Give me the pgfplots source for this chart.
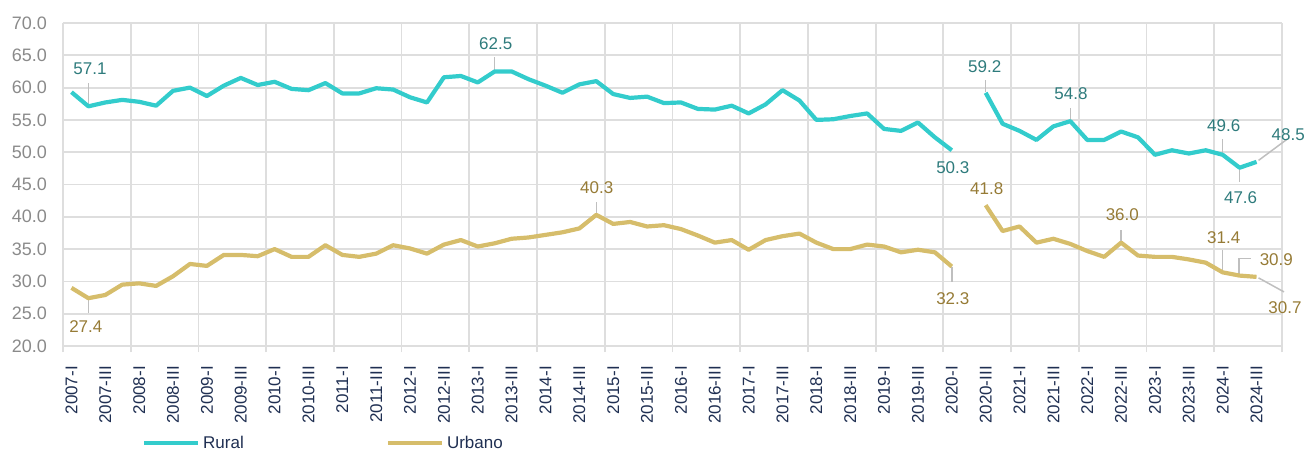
\documentclass[border=0pt]{standalone}
\usepackage{fontspec}
\setmainfont{Liberation Sans}
\usepackage{pgfplots}
\pgfplotsset{compat=1.18}
\usepackage{pgfplotstable}
\definecolor{rurc}{HTML}{33CCCC}
\definecolor{urbc}{HTML}{D6BD6B}
\definecolor{rurt}{HTML}{2E7B7C}
\definecolor{urbt}{HTML}{967B36}
\definecolor{gridc}{HTML}{DEDEDE}
\definecolor{leadc}{HTML}{BFBFBF}
\definecolor{navy}{HTML}{1F2F52}
\definecolor{ytc}{HTML}{8A8A8A}
\newcommand\lbl{\fontsize{17}{20}\selectfont}
\newcommand\ylbl{\fontsize{18}{21}\selectfont}
\tikzset{
  ld/.style={draw=leadc, line width=1.5pt},
  rl/.style={text=rurt, font=\lbl, inner sep=0pt},
  ul/.style={text=urbt, font=\lbl, inner sep=0pt},
}

\pgfplotstableread{
i r u
0 59.3 29.0
1 57.1 27.4
2 57.7 27.9
3 58.1 29.5
4 57.8 29.7
5 57.2 29.3
6 59.5 30.8
7 60.0 32.7
8 58.7 32.4
9 60.3 34.1
10 61.5 34.1
11 60.4 33.9
12 60.9 35.0
13 59.8 33.8
14 59.6 33.8
15 60.7 35.6
16 59.1 34.1
17 59.1 33.8
18 59.9 34.3
19 59.7 35.6
20 58.5 35.1
21 57.7 34.3
22 61.6 35.7
23 61.8 36.4
24 60.8 35.4
25 62.5 35.9
26 62.5 36.6
27 61.3 36.8
28 60.3 37.2
29 59.2 37.6
30 60.5 38.2
31 61.0 40.3
32 59.0 38.9
33 58.4 39.2
34 58.6 38.5
35 57.6 38.7
36 57.7 38.1
37 56.7 37.1
38 56.6 36.0
39 57.2 36.4
40 56.0 34.9
41 57.4 36.4
42 59.6 37.0
43 58.0 37.4
44 55.0 36.0
45 55.1 35.0
46 55.6 35.0
47 56.0 35.7
48 53.6 35.4
49 53.3 34.5
50 54.6 34.9
51 52.3 34.5
52 50.3 32.3
53 nan nan
54 59.2 41.8
55 54.4 37.8
56 53.3 38.5
57 51.9 36.0
58 54.0 36.6
59 54.8 35.8
60 51.9 34.7
61 51.9 33.8
62 53.2 36.0
63 52.3 34.0
64 49.6 33.8
65 50.3 33.8
66 49.8 33.4
67 50.3 32.9
68 49.6 31.4
69 47.6 30.9
70 48.5 30.7
}\data

\begin{document}
\begin{tikzpicture}
\useasboundingbox (-63pt,-104pt) rectangle (1245pt,346pt);
\begin{axis}[
  at={(0pt,0pt)}, anchor=south west,
  width=1219pt, height=323pt, scale only axis,
  clip=false,
  xmin=-0.5, xmax=71.5, ymin=20, ymax=70,
  ytick={20,25,...,70},
  xtick={0,2,...,70},
  xticklabels={2007-I,2007-III,2008-I,2008-III,2009-I,2009-III,2010-I,2010-III,2011-I,2011-III,2012-I,2012-III,2013-I,2013-III,2014-I,2014-III,2015-I,2015-III,2016-I,2016-III,2017-I,2017-III,2018-I,2018-III,2019-I,2019-III,2020-I,2020-III,2021-I,2021-III,2022-I,2022-III,2023-I,2023-III,2024-I,2024-III},
  minor xtick={-0.5,3.5,...,71.5},
  xminorgrids=true, xmajorgrids=false, ymajorgrids=true,
  grid style={draw=gridc, line width=1.8pt},
  minor grid style={draw=gridc, line width=1.8pt},
  axis line style={draw=none},
  major tick length=0pt, minor tick length=6pt, tick align=outside,
  xtick pos=left, ytick pos=left,
  minor tick style={draw=gridc, line width=1.8pt},
  unbounded coords=jump,
  /pgf/number format/assume math mode=true,
  xticklabel style={font=\lbl},
  yticklabel style={font=\ylbl, text=ytc, inner sep=0pt, xshift=-16pt,
    /pgf/number format/fixed, /pgf/number format/fixed zerofill, /pgf/number format/precision=1},
  xticklabel style={text=navy, rotate=90, anchor=east, inner sep=0pt},
  xticklabel shift=20pt,
  legend columns=2,
  legend style={at={(axis description cs:0.0648,-0.2993)}, anchor=west, draw=none, fill=none,
    inner sep=0pt, outer sep=0pt, nodes={inner sep=3pt, text=navy, font=\lbl},
    /tikz/every even column/.append style={column sep=139pt}},
  legend image code/.code={\draw[#1, line cap=round] (2.1pt,0pt) -- (50.9pt,0pt); \path (0pt,0pt) -- (54pt,0pt);},
]
% leaders
\draw[ld] ([yshift=2pt]axis cs:1,57.1) -- ([yshift=23pt]axis cs:1,57.1);
\draw[ld] ([yshift=1pt]axis cs:25,62.5) -- ([yshift=14pt]axis cs:25,62.5);
\draw[ld] ([yshift=1pt]axis cs:54,59.2) -- ([yshift=13pt]axis cs:54,59.2);
\draw[ld] ([yshift=0pt]axis cs:59,54.8) -- ([yshift=13.5pt]axis cs:59,54.8);
\draw[ld] ([yshift=1.5pt]axis cs:68,49.6) -- ([yshift=16pt]axis cs:68,49.6);
\draw[ld] ([yshift=-1pt]axis cs:69,47.6) -- ([yshift=-14pt]axis cs:69,47.6);
\draw[ld] ([xshift=2pt,yshift=1.5pt]axis cs:70,48.5) -- ([xshift=31pt,yshift=23pt]axis cs:70,48.5);
\draw[ld] ([yshift=-2pt]axis cs:1,27.4) -- ([yshift=-15pt]axis cs:1,27.4);
\draw[ld] ([yshift=0pt]axis cs:31,40.3) -- ([yshift=13pt]axis cs:31,40.3);
\draw[ld] ([yshift=0pt]axis cs:52,32.3) -- ([yshift=-15pt]axis cs:52,32.3);
\draw[ld] ([yshift=1pt]axis cs:62,36.0) -- ([yshift=13pt]axis cs:62,36.0);
\draw[ld] ([yshift=1pt]axis cs:68,31.4) -- ([yshift=22pt]axis cs:68,31.4);
\draw[ld] ([xshift=-0.6pt,yshift=1.6pt]axis cs:69,30.9) -- ([xshift=-0.6pt,yshift=17.3pt]axis cs:69,30.9) -- ([xshift=11pt,yshift=17.3pt]axis cs:69,30.9);
\draw[ld] ([xshift=2pt,yshift=-1pt]axis cs:70,30.7) -- ([xshift=27.4pt,yshift=-15pt]axis cs:70,30.7);

\addplot[draw=rurc, line width=4.2pt, line join=round, no markers] table[x=i,y=r]{\data};
\addlegendentry{Rural}
\addplot[draw=urbc, line width=4.2pt, line join=round, no markers] table[x=i,y=u]{\data};
\addlegendentry{Urbano}

% labels
\node[rl] at ([xshift=1.6pt,yshift=38pt]axis cs:1,57.1) {57.1};
\node[rl] at ([xshift=1pt,yshift=28pt]axis cs:25,62.5) {62.5};
\node[rl] at ([xshift=-1pt,yshift=26.6pt]axis cs:54,59.2) {59.2};
\node[rl] at ([xshift=0.6pt,yshift=28pt]axis cs:59,54.8) {54.8};
\node[rl] at ([xshift=1pt,yshift=-17.4pt]axis cs:52,50.3) {50.3};
\node[rl] at ([xshift=1pt,yshift=29.5pt]axis cs:68,49.6) {49.6};
\node[rl] at ([xshift=1pt,yshift=-30pt]axis cs:69,47.6) {47.6};
\node[rl] at ([xshift=31.7pt,yshift=27.2pt]axis cs:70,48.5) {48.5};
\node[ul] at ([xshift=-2.6pt,yshift=-28pt]axis cs:1,27.4) {27.4};
\node[ul] at ([xshift=0.5pt,yshift=27pt]axis cs:31,40.3) {40.3};
\node[ul] at ([xshift=1pt,yshift=-32.3pt]axis cs:52,32.3) {32.3};
\node[ul] at ([xshift=1pt,yshift=17pt]axis cs:54,41.8) {41.8};
\node[ul] at ([xshift=1.2pt,yshift=27.6pt]axis cs:62,36.0) {36.0};
\node[ul] at ([xshift=1pt,yshift=35pt]axis cs:68,31.4) {31.4};
\node[ul] at ([xshift=36.7pt,yshift=16.3pt]axis cs:69,30.9) {30.9};
\node[ul] at ([xshift=28.4pt,yshift=-30.3pt]axis cs:70,30.7) {30.7};
\end{axis}
\end{tikzpicture}
\end{document}
